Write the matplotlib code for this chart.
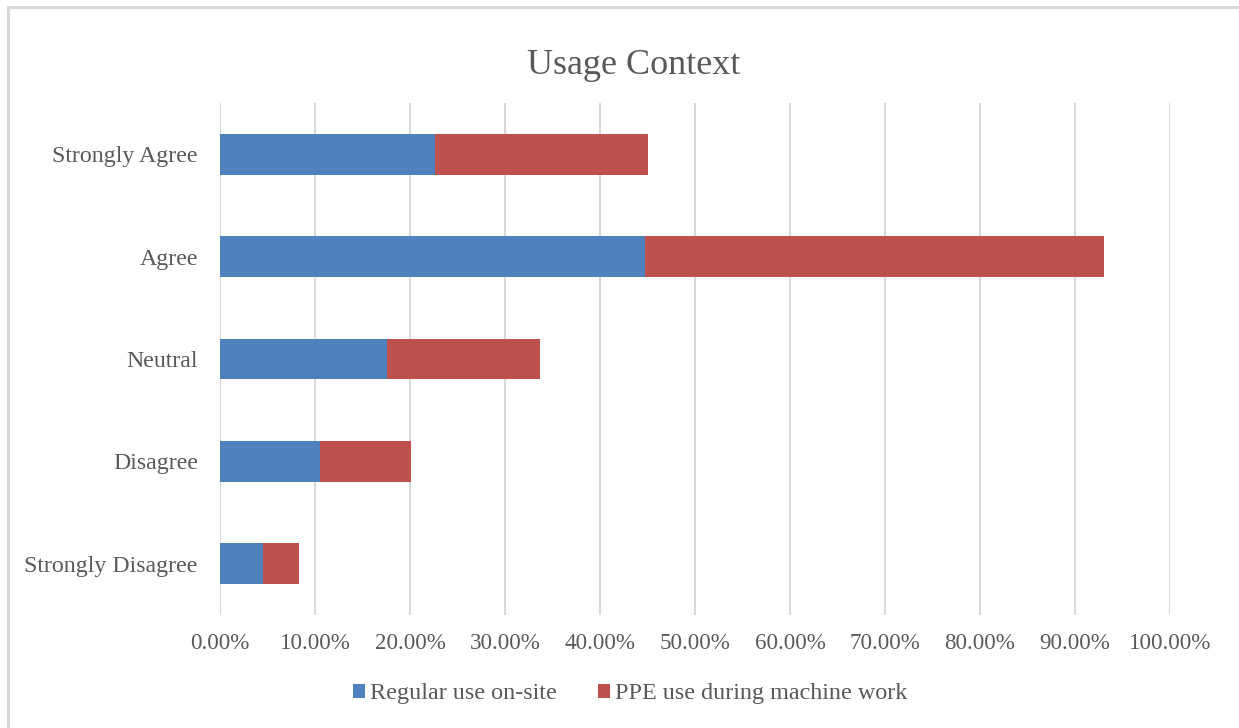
import matplotlib
matplotlib.use("Agg")
import matplotlib.pyplot as plt
from matplotlib.patches import Rectangle
from matplotlib.ticker import FuncFormatter

categories = ["Strongly Agree", "Agree", "Neutral", "Disagree", "Strongly Disagree"]
regular_use = [22.6, 44.7, 17.6, 10.5, 4.5]
ppe_machine = [22.4, 48.3, 16.1, 9.6, 3.8]
series_names = ["Regular use on-site", "PPE use during machine work"]
x_ticks = [0, 10, 20, 30, 40, 50, 60, 70, 80, 90, 100]

BLUE = "#4F81BD"
RED = "#C0504D"
TEXT = "#595959"
GRID = "#D9D9D9"

plt.rcParams["font.family"] = ["Liberation Serif", "DejaVu Serif"]

W, H = 1239, 728
fig = plt.figure(figsize=(W / 100, H / 100), dpi=100)
fig.patch.set_facecolor("white")

# chart-area border (top and left edges visible)
fig.patches.append(Rectangle((8 / W, -0.05), 1.2, 1 - 7 / H + 0.05,
                             transform=fig.transFigure, fill=False,
                             edgecolor="#D9D9D9", linewidth=2.2))

ax = fig.add_axes([220 / W, 1 - 615 / H, (1170 - 220) / W, (615 - 103) / H])

y = list(range(len(categories)))
ax.barh(y, regular_use, height=0.4, color=BLUE, label=series_names[0], zorder=3)
ax.barh(y, ppe_machine, left=regular_use, height=0.4, color=RED,
        label=series_names[1], zorder=3)

ax.set_ylim(len(categories) - 0.5, -0.5)
ax.set_xlim(0, 100)
ax.set_yticks(y)
ax.set_yticklabels(categories)
ax.set_xticks(x_ticks)
ax.xaxis.set_major_formatter(FuncFormatter(lambda v, p: f"{v:.2f}%"))

ax.grid(axis="x", color=GRID, linewidth=1.5, zorder=0)
for s in ax.spines.values():
    s.set_visible(False)
ax.tick_params(axis="both", length=0, labelcolor=TEXT)
ax.tick_params(axis="x", pad=13, labelsize=16.6)
ax.tick_params(axis="y", pad=16, labelsize=17.2)

fig.text(634 / W, 1 - 65 / H, "Usage Context", ha="center", va="center",
         fontsize=26, color=TEXT)

leg = fig.legend(loc="center", bbox_to_anchor=(630 / W, 1 - 694 / H), ncol=2,
                 frameon=False, fontsize=17.4, handlelength=0.5, handleheight=0.5,
                 handletextpad=0.2, columnspacing=1.72)
for t in leg.get_texts():
    t.set_color(TEXT)

fig.savefig("out.png", dpi=100)
